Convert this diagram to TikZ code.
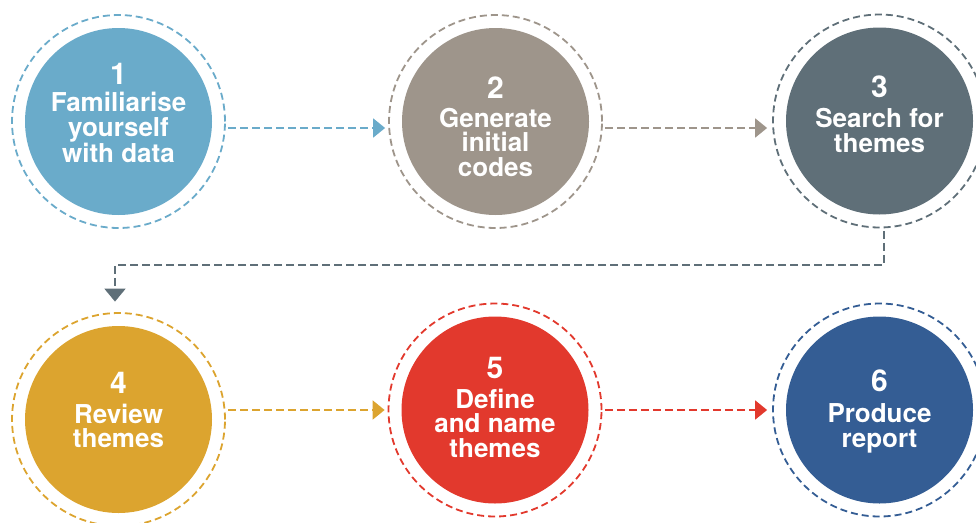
\documentclass[tikz,border=0pt]{standalone}
\usepackage{fontspec}
\setmainfont{TeX Gyre Heros}
\usetikzlibrary{arrows.meta,calc}
\definecolor{cblue}{HTML}{6AABCA}
\definecolor{cgrey}{HTML}{9E958B}
\definecolor{cslate}{HTML}{5F6F78}
\definecolor{cgold}{HTML}{DCA42F}
\definecolor{cred}{HTML}{E2392D}
\definecolor{cnavy}{HTML}{345D94}
\begin{document}
\begin{tikzpicture}[x=1pt,y=-1pt,
  disc/.style={circle, minimum size=187pt, inner sep=0pt, draw=none},
  ring/.style={circle, minimum size=213pt, inner sep=0pt, draw, line width=1.8pt, dash pattern=on 7pt off 4pt},
  num/.style={anchor=base, text=white, font=\bfseries\fontsize{30}{30}\selectfont, inner sep=0pt},
  lab/.style={anchor=base, text=white, align=center, font=\bfseries\fontsize{26}{24.5}\selectfont, inner sep=0pt},
  conn/.style={line width=2pt, dash pattern=on 8pt off 4pt, -{Triangle[length=12pt,width=19pt]}, shorten <=2.5pt}
]
\useasboundingbox (0,0) rectangle (976,522);

% circles
\node[disc, fill=cblue] (c1) at (118.5,121.5) {};
\node[ring, draw=cblue] (r1) at (118.5,121.5) {};
\node[disc, fill=cgrey] (c2) at (495.5,121.5) {};
\node[ring, draw=cgrey] (r2) at (495.5,121.5) {};
\node[disc, fill=cslate] (c3) at (879.5,121) {};
\node[ring, draw=cslate] (r3) at (879.5,121) {};
\node[disc, fill=cgold] (c4) at (118.5,419.5) {};
\node[ring, draw=cgold] (r4) at (118.5,419.5) {};
\node[disc, fill=cred] (c5) at (495,410) {};
\node[ring, draw=cred] (r5) at (495,410) {};
\node[disc, fill=cnavy] (c6) at (879.5,410) {};
\node[ring, draw=cnavy] (r6) at (879.5,410) {};

% texts (base = baseline of last line)
\node[num] (n1) at (118.5,84) {1};
\node[lab] (t1) at (118.5,162.5) {Familiarise\\yourself\\with data};
\node[num] (n2) at (495.5,98.3) {2};
\node[lab] (t2) at (495.5,176) {Generate\\initial\\codes};
\node[num] (n3) at (879.5,97.3) {3};
\node[lab] (t3) at (879.5,152) {Search for\\themes};
\node[num] (n4) at (118.5,393.3) {4};
\node[lab] (t4) at (118.5,447.5) {Review\\themes};
\node[num] (n5) at (495,378.3) {5};
\node[lab] (t5) at (495,457) {Define\\and name\\themes};
\node[num] (n6) at (879.5,391.7) {6};
\node[lab] (t6) at (879.5,447) {Produce\\report};

% connectors
\coordinate (row1) at (0,128);
\coordinate (row2) at (0,410);
\coordinate (k1) at (884,265);
\coordinate (k2) at (115,265);
\draw[conn, draw=cblue, shorten >=3pt] (r1.east |- row1) -- (r2.west |- row1);
\draw[conn, draw=cgrey, shorten >=5pt] (r2.east |- row1) -- (r3.west |- row1);
\draw[conn, draw=cslate, shorten >=10.5pt, -{Triangle[length=13pt,width=21pt]}] (r3.south -| k1) -- (k1) -- (k2) -- (r4.north -| k2);
\draw[conn, draw=cgold, shorten >=3pt] (r4.east |- row2) -- (r5.west |- row2);
\draw[conn, draw=cred, shorten >=5pt] (r5.east |- row2) -- (r6.west |- row2);
\end{tikzpicture}
\end{document}
